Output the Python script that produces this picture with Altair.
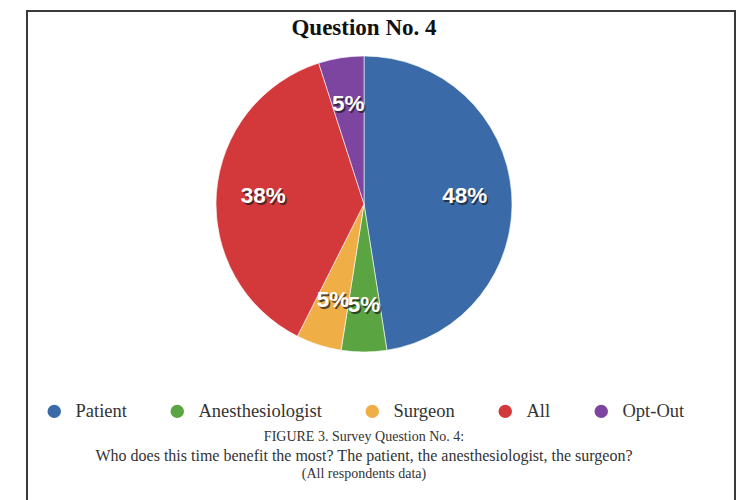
import altair as alt
import pandas as pd

# Survey answers: who benefits most from this time
categories = ["Patient", "Anesthesiologist", "Surgeon", "All", "Opt-Out"]
percents = [48, 5, 5, 38, 5]
colors = ["#3a6aa8", "#5aa442", "#f0ae46", "#d3393a", "#7d44a0"]

chart_title = "Question No. 4"
caption_lines = [
    "FIGURE 3. Survey Question No. 4:",
    "Who does this time benefit the most?  The patient, the anesthesiologist, the surgeon?",
    "(All respondents data)",
]

df = pd.DataFrame({
    "category": categories,
    "percent": percents,
    "idx": list(range(len(categories))),
    "label": [f"{p}%" for p in percents],
})

theta = alt.Theta("percent:Q", stack=True)
order = alt.Order("idx:Q")

pie = alt.Chart(df).mark_arc(outerRadius=148, stroke="#ffffff", strokeWidth=0.6).encode(
    theta=theta,
    order=order,
    color=alt.Color(
        "category:N",
        scale=alt.Scale(domain=categories, range=colors),
        sort=categories,
        legend=alt.Legend(
            title=None,
            orient="none",
            legendX=45,
            legendY=362,
            direction="horizontal",
            columns=5,
            symbolType="circle",
            symbolSize=180,
            symbolStrokeWidth=0,
            symbolOpacity=1,
            labelFont="Liberation Serif",
            labelFontSize=18.5,
            labelColor="#333333",
            labelOffset=12,
            columnPadding=41,
            padding=0,
        ),
    ),
)

# percentage labels: dark shadow underneath, white text on top
label_radius = 101
label_size = 22.5

shadow = alt.Chart(df).mark_text(
    radius=label_radius, dx=1.5, dy=1.5, font="Liberation Sans", fontWeight="bold",
    fontSize=label_size, color="#1a1a1a", opacity=0.7,
).encode(theta=theta, order=order, text="label:N")

labels = alt.Chart(df).mark_text(
    radius=label_radius, font="Liberation Sans", fontWeight="bold",
    fontSize=label_size, color="#ffffff",
).encode(theta=theta, order=order, text="label:N")

one = pd.DataFrame({"a": [0]})

frame = alt.Chart(one).mark_rect(fillOpacity=0, stroke="#3a3a3a", strokeWidth=2).encode(
    x=alt.value(27), x2=alt.value(735), y=alt.value(-29), y2=alt.value(480)
)

title_text = alt.Chart(one).mark_text(
    text=chart_title, font="Liberation Serif", fontSize=23, fontWeight="bold",
    color="#111111", align="center", baseline="middle",
).encode(x=alt.value(364), y=alt.value(-12))

caption_y = [397, 416, 434]
caption_sizes = [14, 16, 14]
caption_layers = [
    alt.Chart(one).mark_text(
        text=line, font="Liberation Serif", fontSize=size, color="#333333",
        align="center", baseline="middle",
    ).encode(x=alt.value(364), y=alt.value(y))
    for line, y, size in zip(caption_lines, caption_y, caption_sizes)
]

chart = alt.layer(frame, title_text, pie, shadow, labels, *caption_layers).properties(
    width=728,
    height=328,
    padding={"left": 0, "top": 40, "right": 14, "bottom": 132},
    autosize=alt.AutoSizeParams(type="none"),
    background="#ffffff",
).configure_view(strokeWidth=0)

chart.save("out.html", embed_options={"renderer": "svg", "actions": False})
